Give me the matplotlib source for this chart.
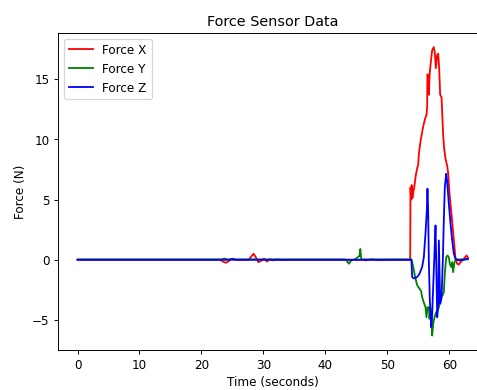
import matplotlib
matplotlib.use("Agg")
import matplotlib.pyplot as plt

# ---- data ----
x_time = [0, 23.0, 23.5, 23.9, 24.3, 24.7, 27.6, 28.1, 28.4, 28.8, 29.2, 29.6, 30.1, 30.6,
          31.0, 31.6, 32.2, 33.0, 34.0, 46.0, 46.5, 47.5, 48.5, 50.0, 53.7, 53.75, 53.85,
          53.95, 54.05, 54.2, 54.35, 54.6, 54.83, 55.0, 55.1, 55.36, 55.63, 55.9, 56.17,
          56.33, 56.44, 56.48, 56.56, 56.7, 56.87, 57.09, 57.25, 57.5, 57.68, 57.84, 58.06,
          58.22, 58.38, 58.54, 58.76, 58.86, 59.03, 59.19, 59.4, 59.67, 59.83, 60.0, 60.21,
          60.48, 60.75, 61.02, 61.29, 61.56, 61.83, 62.2, 62.53, 62.8, 63.0]
force_x = [0, 0, -0.15, -0.25, -0.15, 0, 0, 0.3, 0.5, 0.2, -0.2, -0.1, 0.1, -0.15,
           0.05, -0.05, 0.03, -0.03, 0, 0, -0.05, 0.03, -0.04, 0, 0, 6.0, 5.0,
           6.2, 5.1, 5.6, 6.0, 7.0, 7.6, 7.9, 8.8, 9.8, 10.6, 11.3, 11.8,
           12.0, 12.7, 15.4, 15.3, 13.7, 15.6, 16.7, 17.4, 17.65, 17.2, 15.9, 17.0,
           17.1, 15.9, 13.7, 13.5, 12.3, 10.3, 9.2, 8.4, 7.8, 7.2, 5.8, 4.6,
           3.2, 1.6, 0.1, -0.33, -0.4, -0.2, 0.0, 0.2, 0.36, 0.2]

y_time = [0, 23.2, 23.7, 24.2, 43.3, 43.8, 44.2, 44.8, 45.2, 45.5, 45.65, 45.8, 53.9,
          54.2, 54.5, 54.82, 55.2, 55.47, 55.63, 55.9, 56.17, 56.33, 56.49, 56.71, 56.82,
          56.98, 57.14, 57.25, 57.41, 57.62, 57.9, 58.17, 58.33, 58.6, 58.86, 59.13, 59.29,
          59.51, 59.73, 59.94, 60.1, 60.32, 60.48, 60.64, 60.8, 61.02, 61.56, 63.0]
force_y = [0.03, 0.03, 0.1, 0.03, 0.03, -0.33, -0.05, 0.05, 0.2, 0.3, 0.9, 0.03, 0.03,
           -0.6, -1.44, -2.1, -2.4, -2.6, -3.1, -3.55, -3.94, -4.77, -3.94, -3.94, -4.9,
           -3.94, -4.77, -6.29, -5.3, -4.77, -4.35, -4.2, -3.94, -3.1, -3.0, -2.7, -1.16,
           0.2, 0.36, 0.2, -0.33, -0.6, -0.2, -1.03, -0.33, 0.0, 0.03, 0.03]

z_time = [0, 24.5, 25.0, 25.5, 53.9, 54.02, 54.29, 54.82, 55.2, 55.63, 55.9, 56.17, 56.39,
          56.49, 56.6, 56.71, 56.87, 57.09, 57.25, 57.41, 57.62, 57.79, 57.95, 58.06, 58.22,
          58.33, 58.54, 58.76, 58.97, 59.13, 59.29, 59.51, 59.67, 59.94, 60.21, 60.48, 60.75,
          61.02, 61.56, 62.36, 63.0]
force_z = [0, 0, 0.08, 0, 0, -1.44, -1.55, -1.44, -1.16, -0.6, 0.2, 2.16, 4.1,
           5.9, 4.1, -0.1, -3.38, -5.6, -4.5, -2.28, 0.5, 2.85, -1.5, -4.77, -3.8,
           1.6, -3.66, -3.2, -0.06, 3.26, 6.03, 7.14, 6.5, 4.65, 3.0, 1.6, 0.5,
           0.08, -0.05, 0.0, 0.1]

labels = ["Force X", "Force Y", "Force Z"]
colors = ["r", "g", "b"]

DPI = 86.5
W, H = 477, 390
fig = plt.figure(figsize=((W + 0.3) / DPI, (H + 0.3) / DPI), dpi=DPI)
ax = fig.add_axes([58 / W, 40 / H, (487 - 58) / W, (350 - 33) / H])

for t, v, lab, c in zip([x_time, y_time, z_time], [force_x, force_y, force_z], labels, colors):
    ax.plot(t, v, color=c, label=lab)

ax.spines["right"].set_visible(False)
ax.set_title("Force Sensor Data")
ax.set_xlabel("Time (seconds)")
ax.set_ylabel("Force (N)")
ax.legend(loc="upper left")

fig.savefig("out.png", dpi=DPI)
